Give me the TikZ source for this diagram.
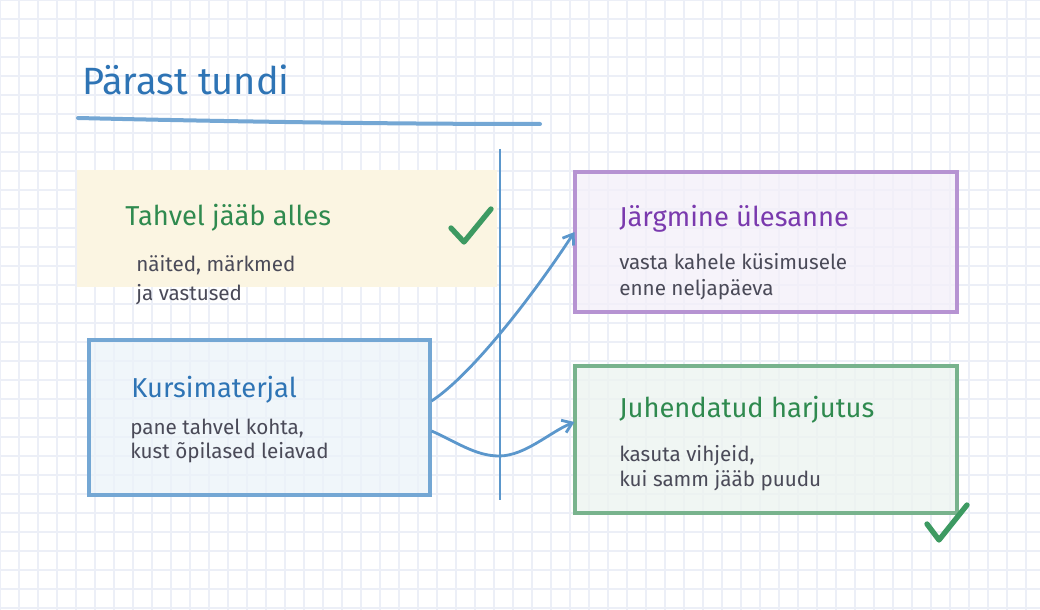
\documentclass[tikz,border=0pt]{standalone}
\usepackage{fontspec}
\setmainfont{Fira Sans}
\usepackage{xcolor}
\usetikzlibrary{arrows.meta, positioning, calc}
\definecolor{gridcol}{HTML}{ECEFF7}
\definecolor{titleblue}{HTML}{2E74B5}
\definecolor{lineblue}{HTML}{5B97CC}
\definecolor{bodygray}{HTML}{4A4A58}
\definecolor{okgreen}{HTML}{2F8A4F}
\definecolor{checkgreen}{HTML}{3D9A62}
\definecolor{taskpurple}{HTML}{7A3AAE}
\definecolor{boardcream}{HTML}{FBF5E2}
\tikzstyle{gridline} = [gridcol, line width=1.2pt]
\tikzstyle{card} = [rectangle, line width=2.3pt, fill opacity=0.75, text opacity=1]
\tikzstyle{heading} = [anchor=base west, inner sep=0pt, font=\fontsize{20.5}{24}\selectfont]
\tikzstyle{body} = [anchor=base west, inner sep=0pt, align=left, text=bodygray]
\tikzstyle{arrow} = [lineblue, line width=2.1pt, -{Straight Barb[length=7pt, width=10pt]}]
\tikzstyle{check} = [checkgreen, line width=4pt, line cap=round, line join=round]

\begin{document}
\begin{tikzpicture}[x=0.75pt, y=-0.75pt]
    \useasboundingbox (0,0) rectangle (1040,610);
    \fill[white] (0,0) rectangle (1040,610);

    % Grid paper
    \foreach \gx in {0,19,...,1040} \draw[gridline] (\gx,0) -- (\gx,610);
    \foreach \gy in {0,19,...,610} \draw[gridline] (0,\gy) -- (1040,\gy);

    % Title
    \node (title) [anchor=base west, inner sep=0pt, text=titleblue, font=\fontsize{28.5}{32}\selectfont] at (82,95) {Pärast tundi};
    \draw[lineblue!85!white, line width=3pt, line cap=round] (78,118) .. controls (250,122) and (400,124) .. (540,124);

    % Divider
    \draw[lineblue, line width=2pt] (500,149) -- (500,500);

    % Board band
    \node (board) [rectangle, fill=boardcream, minimum width=315pt, minimum height=87.75pt] at (287,228.5) {};
    \node (boardhead) [heading, text=okgreen] at (125,225) {Tahvel jääb alles};
    \node (boardbody) [body, font=\fontsize{15.5}{21.5}\selectfont] at (136,300) {näited, märkmed\\ja vastused};
    \draw[check] (451,228) -- (464,242) -- (491,209);

    % Course material
    \node (course) [card, draw=lineblue!85!white, fill=lineblue!12!white, minimum width=255.75pt, minimum height=116.25pt] at (259.5,417.5) {};
    \node (coursehead) [heading, text=titleblue] at (131,397) {Kursimaterjal};
    \node (coursebody) [body, font=\fontsize{15.5}{17.5}\selectfont] at (130,458) {pane tahvel kohta,\\kust õpilased leiavad};

    % Next task
    \node (task) [card, draw=taskpurple!55!white, fill=taskpurple!8!white, minimum width=286.5pt, minimum height=105pt] at (766,242) {};
    \node (taskhead) [heading, text=taskpurple] at (619,226) {Järgmine ülesanne};
    \node (taskbody) [body, font=\fontsize{15.5}{19.5}\selectfont] at (619,295) {vasta kahele küsimusele\\enne neljapäeva};

    % Guided practice
    \node (practice) [card, draw=okgreen!65!white, fill=okgreen!9!white, minimum width=286.5pt, minimum height=110.25pt] at (766,439.5) {};
    \node (practicehead) [heading, text=okgreen] at (619,417) {Juhendatud harjutus};
    \node (practicebody) [body, font=\fontsize{15.5}{18.75}\selectfont] at (619,486) {kasuta vihjeid,\\kui samm jääb puudu};
    \draw[check] (927,524) -- (939,540) -- (967,505);

    % Arrows
    \draw [arrow] ($(course.east)+(0,-16.5)$) .. controls (470,376) and (530,300) .. ($(task.west)+(1,-10)$);
    \draw [arrow] ($(course.east)+(0,13.5)$) .. controls (455,441) and (475,456) .. (499,456) .. controls (525,456) and (550,432) .. ($(practice.west)+(1,-17.5)$);
\end{tikzpicture}
\end{document}
